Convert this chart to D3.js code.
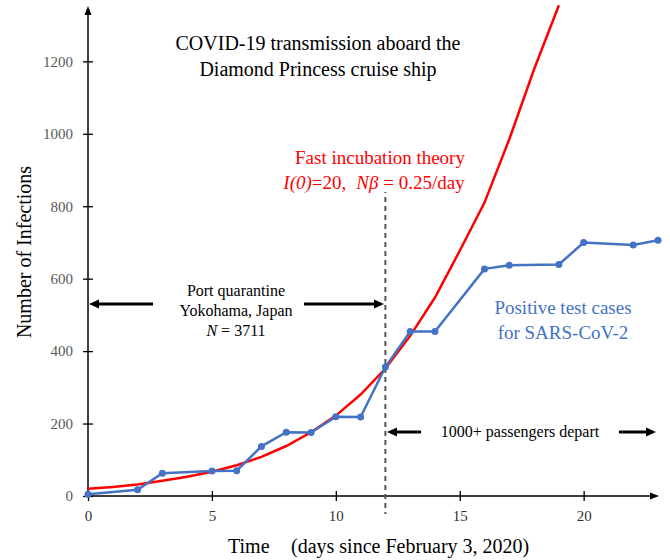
<!DOCTYPE html>
<html><head><meta charset="utf-8">
<script src="https://cdn.jsdelivr.net/npm/d3@7"></script>
<style>body{margin:0;background:#fff}</style>
</head><body>
<svg id="c" width="670" height="560"></svg>
<script>
// Data
const caseDays   = [0, 2, 3, 5, 6, 7, 8, 9, 10, 11, 12, 13, 14, 16, 17, 19, 20, 22, 23];
const caseValues = [5, 17, 63, 69, 70, 137, 176, 175, 219, 218, 356, 454, 454, 627, 637, 639, 700, 693, 706];
const theoryDays   = [0, 1, 2, 3, 4, 5, 6, 7, 8, 9, 10, 11, 12, 13, 14, 15, 16, 17, 18, 19];
const theoryValues = [20, 25, 32, 42, 53, 67, 85, 108, 138, 176, 222, 280, 352, 442, 548, 677, 810, 985, 1178, 1355];
const xTicks = [0, 5, 10, 15, 20];
const yTicks = [0, 200, 400, 600, 800, 1000, 1200];

const FONT = '"Liberation Serif"';
const svg = d3.select("#c");
const x = d3.scaleLinear().domain([0, 23]).range([88, 658]);
const y = d3.scaleLinear().domain([0, 1350]).range([496, 7]);

// Axes lines
const ax = svg.append("g").attr("stroke", "#000").attr("stroke-width", 1.5);
ax.append("line").attr("x1", x(0)).attr("x2", x(23)-4).attr("y1", y(0)).attr("y2", y(0));
ax.append("line").attr("x1", x(0)).attr("x2", x(0)).attr("y1", y(0)).attr("y2", y(1350)+4);
svg.append("path").attr("d", `M${x(23)+1},${y(0)} l-9,-3.5 l0,7 z`).attr("fill","#000");
svg.append("path").attr("d", `M${x(0)},${y(1350)-1} l-3.5,9 l7,0 z`).attr("fill","#000");

// Ticks
const yAxis = d3.axisLeft(y).tickValues(yTicks).tickFormat(d3.format("d")).tickSizeInner(5).tickSizeOuter(0).tickPadding(10);
const gy = svg.append("g").attr("transform", `translate(${x(0)},0)`).call(yAxis);
gy.attr("font-family", null).attr("font-size", null);
gy.select(".domain").remove();
gy.selectAll(".tick line").attr("x2", 5).attr("x1", -5).attr("stroke","#000").attr("stroke-width",1.3);
gy.selectAll(".tick text").style("font-family", FONT).attr("font-size", 15).attr("fill", "#595959");

const xAxis = d3.axisBottom(x).tickValues(xTicks).tickFormat(d3.format("d")).tickSizeInner(5).tickSizeOuter(0).tickPadding(9);
const gx = svg.append("g").attr("transform", `translate(0,${y(0)})`).call(xAxis);
gx.attr("font-family", null).attr("font-size", null);
gx.select(".domain").remove();
gx.selectAll(".tick line").attr("y1", -5).attr("y2", 5).attr("stroke","#000").attr("stroke-width",1.3);
gx.selectAll(".tick text").style("font-family", FONT).attr("font-size", 15).attr("fill", "#333");

// Dashed line at day 12
svg.append("line").attr("x1", x(12)).attr("x2", x(12)).attr("y1", 170).attr("y2", 514)
  .attr("stroke", "#555").attr("stroke-width", 2).attr("stroke-dasharray", "5,4");

// Theory curve
const line = d3.line().x(d => x(d[0])).y(d => y(d[1]));
svg.append("path")
  .datum(theoryDays.map((d,i)=>[d, theoryValues[i]]))
  .attr("d", line).attr("fill","none").attr("stroke","#ff0000").attr("stroke-width",2.5);

// Cases
const blue = "#4472C4";
const pts = caseDays.map((d,i)=>[d, caseValues[i]]);
svg.append("path").datum(pts).attr("d", line).attr("fill","none").attr("stroke",blue).attr("stroke-width",2.5);
svg.selectAll("circle.pt").data(pts).enter().append("circle").attr("class","pt")
  .attr("cx", d=>x(d[0])).attr("cy", d=>y(d[1])).attr("r", 3.5).attr("fill", blue);

// Texts
function txt(xp, yp, s, size, fill, anchor) {
  return svg.append("text").attr("x", xp).attr("y", yp).style("font-family", FONT)
    .attr("font-size", size).attr("fill", fill || "#000").attr("text-anchor", anchor || "middle").text(s);
}
svg.append("rect").attr("x", 270).attr("y", 168).attr("width", 210).attr("height", 24).attr("fill", "#fff");
txt(318, 50, "COVID-19 transmission aboard the", 20);
txt(318, 76, "Diamond Princess cruise ship", 20);

txt(380, 164, "Fast incubation theory", 19, "#ff0000");
const t2 = svg.append("text").attr("x", 374).attr("y", 189).style("font-family", FONT)
  .attr("font-size", 19).attr("fill", "#ff0000").attr("text-anchor", "middle");
t2.append("tspan").attr("font-style","italic").text("I(0)");
t2.append("tspan").text("=20,");
t2.append("tspan").attr("dx", 10).attr("font-style","italic").text("N\u03b2");
t2.append("tspan").text(" = 0.25/day");

txt(563, 314, "Positive test cases", 19, blue);
txt(563, 339, "for SARS-CoV-2", 19, blue);

txt(236, 296, "Port quarantine", 16);
txt(236, 316, "Yokohama, Japan", 16);
const t3 = svg.append("text").attr("x", 236).attr("y", 336).style("font-family", FONT)
  .attr("font-size", 16).attr("text-anchor","middle");
t3.append("tspan").attr("font-style","italic").text("N");
t3.append("tspan").text(" = 3711");

txt(520, 437, "1000+ passengers depart", 16);

// Arrows
function arrow(x1, x2, yy) {
  svg.append("line").attr("x1", x1).attr("x2", x2 + (x2 > x1 ? -6 : 6)).attr("y1", yy).attr("y2", yy)
    .attr("stroke","#000").attr("stroke-width", 3);
  const dir = x2 > x1 ? -1 : 1;
  svg.append("path").attr("d", `M${x2},${yy} l${dir*10},-4.5 l0,9 z`).attr("fill","#000");
}
arrow(153, 89, 304);
arrow(304, 384, 304);
arrow(421, 387, 432);
arrow(619, 656, 432);

// Axis titles
txt(228, 553, "Time", 20, "#000", "start");
txt(291, 553, "(days since February 3, 2020)", 20, "#000", "start");
svg.append("text").attr("transform", "translate(31,252) rotate(-90)").style("font-family", FONT)
  .attr("font-size", 20).attr("text-anchor","middle").text("Number of Infections");
</script>
</body></html>
